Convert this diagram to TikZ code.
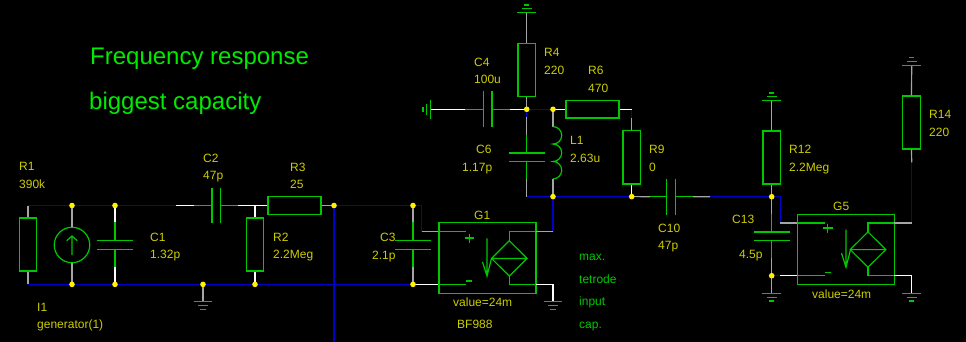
\documentclass[tikz,border=0pt]{standalone}
\usepackage{fontspec}
\setmainfont{Liberation Sans}
\definecolor{cg}{RGB}{0,200,0}
\definecolor{cb}{RGB}{0,0,200}
\definecolor{cy}{RGB}{205,205,0}
\definecolor{cgy}{RGB}{165,165,165}
\definecolor{ct}{RGB}{0,235,0}
\newcommand{\lab}[4]{\node[txt,text=#4] at (#1,#2+4.2) {#3};}
\newcommand{\gndd}[2]{\draw[gw] (#1-9.3,#2)--(#1+9.3,#2) (#1-5,#2+3.9)--(#1+5,#2+3.9) (#1-2.7,#2+7.7)--(#1+2.7,#2+7.7);}
\newcommand{\gndu}[2]{\draw[gw] (#1-9.3,#2)--(#1+9.3,#2) (#1-5,#2-3.9)--(#1+5,#2-3.9) (#1-2.7,#2-7.7)--(#1+2.7,#2-7.7);}
\newcommand{\vcap}[2]{\draw[gw] (#1-17.8,#2-4.4)--(#1+17.8,#2-4.4) (#1-17.8,#2+4.4)--(#1+17.8,#2+4.4);}
\newcommand{\hcap}[2]{\draw[gw] (#1-4.4,#2-17.8)--(#1-4.4,#2+17.8) (#1+4.4,#2-17.8)--(#1+4.4,#2+17.8);}
\newcommand{\vccs}[3]{% centre x of diamond, top stem y, arrow x
  \draw[gw] (#1,#2+8.8)--(#1+17.8,#2+26.5)--(#1,#2+44.2)--(#1-17.8,#2+26.5)--cycle (#1-17.8,#2+26.5)--(#1+17.8,#2+26.5);
  \draw[gw] (#3,#2+6.5)--(#3,#2+44.2) (#3-4.5,#2+30)--(#3,#2+44.2)--(#3+4.5,#2+26.5);
}
\tikzset{
  x=1pt,y=-1pt,
  gw/.style={draw=cg,line width=1.2pt},
  bw/.style={draw=cb,line width=1.2pt},
  wh/.style={draw=white,line width=1.2pt},
  gy/.style={draw=cgy,line width=1.2pt},
  vres/.style={draw=cg,line width=1.2pt,minimum width=17.6pt,minimum height=53pt,inner sep=0pt},
  hres/.style={draw=cg,line width=1.2pt,minimum width=53pt,minimum height=17.6pt,inner sep=0pt},
  gbox/.style={draw=cg,line width=1.2pt,inner sep=0pt},
  csrc/.style={circle,draw=cg,line width=1.2pt,minimum size=35.5pt,inner sep=0pt},
  jdot/.style={circle,fill=yellow,inner sep=0pt,minimum size=5.6pt},
  txt/.style={anchor=base west,inner sep=0pt,font=\fontsize{12}{12}\selectfont},
}
\begin{document}
\begin{tikzpicture}
\fill[black] (0,0) rectangle (966,342);
\useasboundingbox (0,0) rectangle (966,342);
% junction coordinates
\coordinate (tl) at (28,205.5);
\coordinate (bl) at (28,284.4);
\coordinate (a1) at (72,205.5);  \coordinate (a2) at (72,284.4);
\coordinate (b1) at (115,205.5); \coordinate (b2) at (115,284.4);
\coordinate (c2) at (203,284.4);
\coordinate (d1) at (255,205.5); \coordinate (d2) at (255,284.4);
\coordinate (e1) at (334,205.5);
\coordinate (f1) at (413,205.5); \coordinate (f2) at (413,284.4);
\coordinate (m1) at (526.7,109.3); \coordinate (m2) at (553,109.3);
\coordinate (n0) at (526.7,196.6); \coordinate (n1) at (553,196.6); \coordinate (n2) at (631.7,196.6);
\coordinate (p1) at (771.7,196.7); \coordinate (p2) at (771.7,275.7);
% parts
\node[vres] (R1) at (28,244.5) {};
\node[csrc] (I1) at (72,245) {};
\node[vres] (R2) at (255,244.5) {};
\node[hres] (R3) at (294.5,205.5) {};
\node[vres] (R4) at (526.7,70) {};
\node[hres] (R6) at (592.5,109.3) {};
\node[vres] (R9) at (631.7,157.4) {};
\node[vres] (R12) at (771.7,157.5) {};
\node[vres] (R14) at (911.5,122.5) {};
\node[gbox,minimum width=97pt,minimum height=70.5pt] (G1) at (487.4,258) {};
\node[gbox,minimum width=97pt,minimum height=70pt] (G5) at (845.8,249.3) {};
% blue rails
\draw[bw] (tl)--(a1)--(b1)--(176,205.5);
\draw[bw] (bl)--(a2)--(b2)--(c2)--(d2)--(f2);
\draw[bw] (e1)--(f1)--(421.7,205.5)--(421.7,231.7);
\draw[bw] (e1)--(334,342);
\draw[bw] (m1)--(m2);
\draw[bw] (m1)--(526.7,117);
\draw[bw] (n0)--(n1)--(n2);
\draw[bw] (553,231.7)--(n1);
\draw[bw] (631.7,109.3)--(631.7,118);
\draw[bw] (710,196.7)--(p1)--(780.3,196.7)--(780.3,223);
\draw[bw] (p2)--(780.3,275.7);
\draw[bw] (911.7,223)--(911.7,162.3);
% R1, I1, C1
\draw[gy] (tl)--(R1.north) (bl)--(R1.south);
\draw[gy] (a1)--(I1.north) (a2)--(I1.south);
\draw[gw] (72,255)--(72,236) (66.7,240.7)--(72,236)--(77.3,240.7);
\draw[wh] (b1)--(115,222) (b2)--(115,267);
\draw[gw] (115,222)--(115,240.3) (115,249.1)--(115,267);
\vcap{115}{244.7}
% C2, R2, R3
\draw[wh] (176,205.5)--(194,205.5);
\draw[gw] (194,205.5)--(212,205.5) (220.8,205.5)--(238,205.5);
\hcap{216.4}{205.5}
\draw[wh] (238,205.5)--(R3.west);
\draw[wh] (d1)--(R2.north) (d2)--(R2.south);
\draw[gy] (R3.east)--(e1);
% ground at c2
\draw[gy] (c2)--(203,301.7);
\gndd{203}{301.7}
% C3, G1
\draw[gy] (f1)--(413,222) (f2)--(413,267);
\draw[gw] (413,222)--(413,240.7) (413,249.4)--(413,267);
\vcap{413}{245}
\draw[gy] (421.7,231.7)--(G1.west |- 0,231.7);
\draw[gw] (G1.west |- 0,231.7)--(466,231.7);
\draw[wh] (f2)--(G1.west |- f2);
\draw[gw] (G1.west |- f2)--(466,284.4);
\draw[gw] (464.5,238)--(474,238) (469.2,233.5)--(469.2,242.5) (466,281)--(472,281);
\vccs{509.3}{231.9}{487}
\draw[gw] (509.3,240.7)--(509.3,231.7)--(535.9,231.7) (509.3,276.1)--(509.3,284.4)--(535.9,284.4);
\draw[gy] (535.9,231.7)--(553,231.7);
\draw[wh] (535.9,284.4)--(553,284.4)--(553,301.7);
\gndd{553}{301.7}
% R4, C4, C6, L1
\draw[gy] (526.7,12.7)--(R4.north) (R4.south)--(m1);
\gndu{526.7}{12.7}
\draw[wh] (430.7,109.3)--(465,109.3) (510,109.3)--(m1);
\draw[gw] (465,109.3)--(483,109.3) (492,109.3)--(510,109.3);
\hcap{487.5}{109.3}
\draw[gw] (430.7,100)--(430.7,118.6) (426.8,104)--(426.8,114.6) (422.9,106.6)--(422.9,112);
\draw[gy] (526.7,117)--(526.7,135) (526.7,179)--(n0);
\draw[gw] (526.7,135)--(526.7,153) (526.7,161.8)--(526.7,179);
\vcap{526.7}{157.4}
\draw[gy] (m2)--(553,126.6) (553,179.3)--(n1);
\draw[gw] (553,126.6) arc[start angle=90,end angle=-90,radius=8.72pt]
  arc[start angle=90,end angle=-90,radius=8.72pt]
  arc[start angle=90,end angle=-90,radius=8.72pt];
% R6, R9
\draw[wh] (m2)--(R6.west);
\draw[wh] (R6.east)--(631.7,109.3);
\draw[gy] (631.7,118)--(R9.north);
\draw[wh] (R9.south)--(n2);
% C10
\draw[gy] (n2)--(650,196.7) (693,196.7)--(710,196.7);
\draw[gw] (650,196.7)--(666.4,196.7) (675.3,196.7)--(693,196.7);
\hcap{670.8}{196.7}
% R12, C13
\draw[gy] (771.7,100.7)--(R12.north) (R12.south)--(p1);
\gndu{771.7}{100.7}
\draw[gy] (p1)--(771.7,214) (771.7,258)--(p2)--(771.7,293.3);
\draw[gw] (771.7,214)--(771.7,232) (771.7,240.7)--(771.7,258);
\vcap{771.7}{236.3}
\gndd{771.7}{293.3}
% G5
\draw[gy] (780.3,223)--(G5.west |- 0,223);
\draw[gw] (G5.west |- 0,223)--(824.5,223);
\draw[wh] (780.3,275.7)--(G5.west |- p2);
\draw[gw] (G5.west |- p2)--(824.5,275.7);
\draw[gw] (823,228)--(832.5,228) (827.7,223.5)--(827.7,232.5) (825,272.5)--(831,272.5);
\vccs{868}{223.1}{846}
\draw[gw] (868,232)--(868,223)--(894.3,223) (868,267.4)--(868,275.7)--(894.3,275.7);
\draw[gy] (894.3,223)--(911.7,223);
\draw[wh] (894.3,275.7)--(911.7,275.7)--(911.7,293.3);
\gndd{911.7}{293.3}
% R14
\draw[gy] (911.7,162.3)--(R14.south) (R14.north)--(911.7,65.3);
\gndu{911.7}{65.3}
% dots
\foreach \p/\n in {a1/Da,a2/Db,b1/Dc,b2/Dd,c2/De,d2/Df,e1/Dg,f1/Dh,f2/Di,m1/Dj,m2/Dk,n1/Dl,n2/Dm,p1/Dn,p2/Do}
  \node[jdot] (\n) at (\p) {};
% labels
\node[txt,text=ct,font=\fontsize{24}{24}\selectfont] (title1) at (90,64.2) {Frequency response};
\node[txt,text=ct,font=\fontsize{24}{24}\selectfont] (title2) at (89,109.2) {biggest capacity};
\lab{19}{166.7}{R1}{cy} \lab{19}{184}{390k}{cy}
\lab{203}{158}{C2}{cy} \lab{203}{175}{47p}{cy}
\lab{290}{167}{R3}{cy} \lab{290}{184}{25}{cy}
\lab{150}{237}{C1}{cy} \lab{150}{254}{1.32p}{cy}
\lab{273}{237}{R2}{cy} \lab{273}{254}{2.2Meg}{cy}
\lab{37}{307}{I1}{cy} \lab{37}{324}{generator(1)}{cy}
\lab{544}{52.7}{R4}{cy} \lab{544}{70}{220}{cy}
\lab{474}{62}{C4}{cy} \lab{474}{79}{100u}{cy}
\lab{588}{70}{R6}{cy} \lab{588}{88}{470}{cy}
\lab{476}{149}{C6}{cy} \lab{462}{167}{1.17p}{cy}
\lab{570}{140}{L1}{cy} \lab{570}{158}{2.63u}{cy}
\lab{649}{149}{R9}{cy} \lab{649}{167}{0}{cy}
\lab{380}{237}{C3}{cy} \lab{372}{255}{2.1p}{cy}
\lab{474}{215}{G1}{cy} \lab{453}{302}{value=24m}{cy} \lab{457}{324}{BF988}{cy}
\lab{579}{256}{max.}{cg} \lab{579}{279}{tetrode}{cg} \lab{579}{301}{input}{cg} \lab{579}{324}{cap.}{cg}
\lab{658}{228}{C10}{cy} \lab{658}{245}{47p}{cy}
\lab{732}{219}{C13}{cy} \lab{739}{254}{4.5p}{cy}
\lab{789}{149}{R12}{cy} \lab{789}{167}{2.2Meg}{cy}
\lab{929}{114}{R14}{cy} \lab{929}{132}{220}{cy}
\lab{833}{206}{G5}{cy} \lab{812}{294}{value=24m}{cy}
\end{tikzpicture}
\end{document}
